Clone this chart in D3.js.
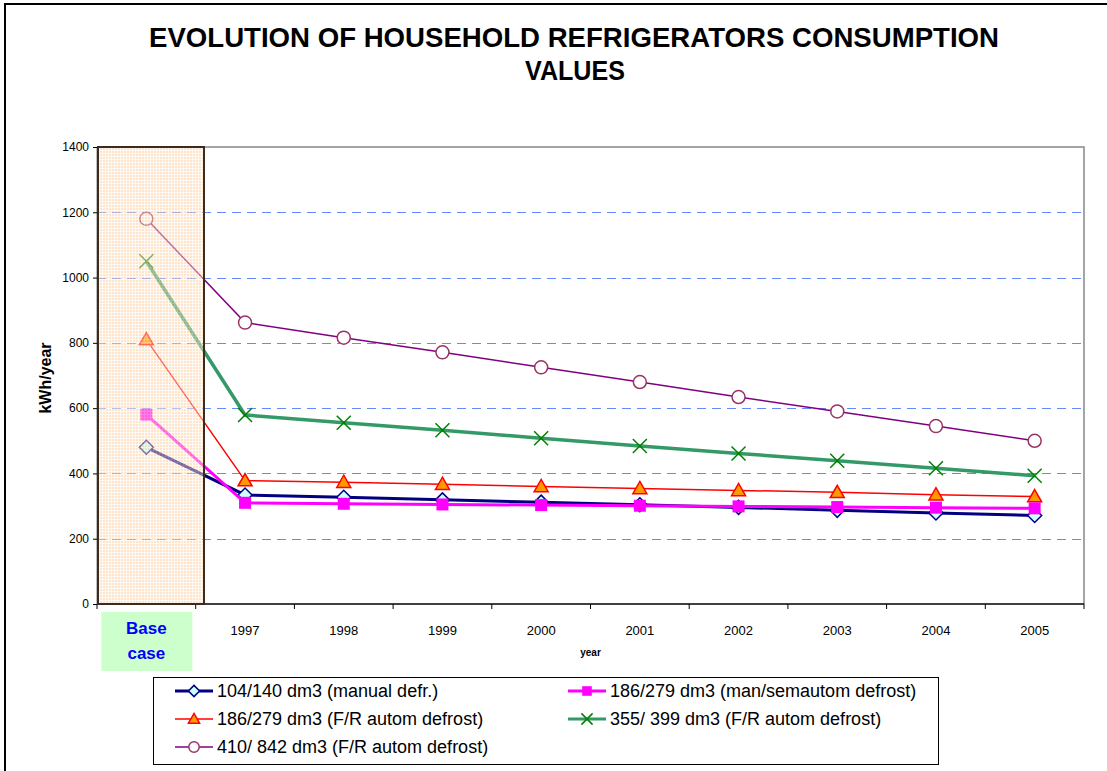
<!DOCTYPE html>
<html>
<head>
<meta charset="utf-8">
<script src="https://cdn.jsdelivr.net/npm/d3@7"></script>
<style>
  body { margin: 0; background: #fff; }
  svg { display: block; font-family: "Liberation Sans", Arial, sans-serif; }
</style>
</head>
<body>
<script>
// categories on the x axis
var categories = ["Base case", "1997", "1998", "1999", "2000", "2001", "2002", "2003", "2004", "2005"];
var yTicks = [0, 200, 400, 600, 800, 1000, 1200, 1400];

// kWh/year per series
var manualDefr   = [480, 334, 327, 319, 312, 304, 296, 287, 279, 271];
var manSemautom  = [580, 310, 307, 305, 303, 301, 299, 297, 295, 293];
var frAutom186   = [810, 378, 373, 367, 360, 354, 348, 342, 335, 329];
var frAutom355   = [1050, 579, 555, 532, 508, 484, 461, 439, 416, 393];
var frAutom410   = [1180, 862, 816, 771, 725, 680, 634, 590, 545, 500];

var seriesNames = [
    "104/140 dm3 (manual defr.)",
    "186/279 dm3 (man/semautom defrost)",
    "186/279 dm3 (F/R autom defrost)",
    "355/ 399 dm3 (F/R autom defrost)",
    "410/ 842 dm3 (F/R autom defrost)"
];

var styles = [
    { line: "#000080", width: 3,   marker: "diamond",  fill: "#ccffff", stroke: "#000080", size: 7 },
    { line: "#ff00ff", width: 3,   marker: "square",   fill: "#ff00ff", stroke: "#ff00ff", size: 6 },
    { line: "#ff0000", width: 1.5, marker: "triangle", fill: "#ff9900", stroke: "#ff0000", size: 7 },
    { line: "#339966", width: 3.5, marker: "cross",    fill: "none",    stroke: "#008000", size: 7 },
    { line: "#800080", width: 1.5, marker: "circle",   fill: "#ffffff", stroke: "#993366", size: 6.5 }
];

var allSeries = [manualDefr, manSemautom, frAutom186, frAutom355, frAutom410];

var width = 1107, height = 771;
var plot = { left: 97, right: 1084, top: 147, bottom: 604 };

var svg = d3.select("body").append("svg")
    .attr("width", width)
    .attr("height", height);

// outer frame (partially visible)
svg.append("path")
    .attr("d", "M5," + height + "L5,4L" + width + ",4")
    .attr("fill", "none")
    .attr("stroke", "#000")
    .attr("stroke-width", 2);

// title
var title = svg.append("text")
    .attr("text-anchor", "middle")
    .attr("font-weight", "bold")
    .attr("font-size", "28px");
title.append("tspan").attr("x", 574).attr("y", 47)
    .attr("textLength", 850).attr("lengthAdjust", "spacingAndGlyphs")
    .text("EVOLUTION OF HOUSEHOLD REFRIGERATORS CONSUMPTION");
title.append("tspan").attr("x", 575).attr("y", 80)
    .attr("textLength", 100).attr("lengthAdjust", "spacingAndGlyphs")
    .text("VALUES");

var x = d3.scaleBand()
    .domain(categories)
    .range([plot.left, plot.right])
    .paddingInner(0)
    .paddingOuter(0);

var y = d3.scaleLinear()
    .domain([0, 1400])
    .range([plot.bottom, plot.top]);

function sy(v) { return Math.round(y(v)) + 0.5; }

// gridlines
svg.append("g")
    .selectAll("line")
    .data(yTicks.filter(d => d > 0 && d < 1400))
    .enter().append("line")
    .attr("x1", plot.left).attr("x2", plot.right)
    .attr("y1", d => sy(d)).attr("y2", d => sy(d))
    .attr("stroke", "#6688ff")
    .attr("stroke-width", 1.2)
    .attr("stroke-dasharray", "9,6");

// plot border top / right
svg.append("path")
    .attr("d", "M" + plot.left + "," + plot.top + "L" + plot.right + "," + plot.top + "L" + plot.right + "," + plot.bottom)
    .attr("fill", "none")
    .attr("stroke", "#888")
    .attr("stroke-width", 1.5);

// y axis
var yAxis = svg.append("g")
    .attr("transform", "translate(" + plot.left + ",0)")
    .call(d3.axisLeft(y).tickValues(yTicks).tickFormat(d3.format("d")).tickSize(4).tickSizeOuter(0));
yAxis.select(".domain").attr("stroke", "#000").attr("stroke-width", 1.5);
yAxis.selectAll(".tick text").attr("font-size", "12px").attr("x", -8)
    .attr("font-family", "Liberation Sans, Arial, sans-serif").attr("fill", "#000");

// x axis: ticks between categories
var xAxis = svg.append("g").attr("transform", "translate(0," + plot.bottom + ")");
xAxis.append("line")
    .attr("x1", plot.left).attr("x2", plot.right)
    .attr("stroke", "#000").attr("stroke-width", 1.5);
var edges = categories.map(c => x(c)).concat([plot.right]);
xAxis.selectAll("line.tick")
    .data(edges)
    .enter().append("line")
    .attr("class", "tick")
    .attr("x1", d => d).attr("x2", d => d)
    .attr("y1", 0).attr("y2", 5)
    .attr("stroke", "#000");
xAxis.selectAll("text.lbl")
    .data(categories.slice(1))
    .enter().append("text")
    .attr("class", "lbl")
    .attr("x", d => x(d) + x.bandwidth() / 2)
    .attr("y", 31)
    .attr("text-anchor", "middle")
    .attr("font-size", "13px")
    .text(d => d);

// base case label box
var bx = x(categories[0]) + x.bandwidth() / 2;
svg.append("rect")
    .attr("x", bx - 45).attr("y", 612)
    .attr("width", 91).attr("height", 59)
    .attr("fill", "#ccffcc");
var baseLbl = svg.append("text")
    .attr("text-anchor", "middle")
    .attr("font-weight", "bold")
    .attr("font-size", "17px")
    .attr("fill", "#0000ff");
baseLbl.append("tspan").attr("x", bx).attr("y", 634).text("Base");
baseLbl.append("tspan").attr("x", bx).attr("y", 659).text("case");

// axis titles
svg.append("text")
    .attr("transform", "translate(51," + 378 + ") rotate(-90)")
    .attr("text-anchor", "middle")
    .attr("font-weight", "bold")
    .attr("font-size", "16px")
    .text("kWh/year");
svg.append("text")
    .attr("x", (plot.left + plot.right) / 2)
    .attr("y", 656)
    .attr("text-anchor", "middle")
    .attr("font-weight", "bold")
    .attr("font-size", "10px")
    .text("year");

// marker drawing
function drawMarker(g, st, cx, cy) {
    var s = st.size;
    if (st.marker === "diamond") {
        g.append("path").attr("d", "M" + cx + "," + (cy - s) + "L" + (cx + s) + "," + cy + "L" + cx + "," + (cy + s) + "L" + (cx - s) + "," + cy + "Z")
            .attr("fill", st.fill).attr("stroke", st.stroke).attr("stroke-width", 1.5);
    } else if (st.marker === "square") {
        g.append("rect").attr("x", cx - s).attr("y", cy - s).attr("width", 2 * s).attr("height", 2 * s)
            .attr("fill", st.fill);
    } else if (st.marker === "triangle") {
        g.append("path").attr("d", "M" + cx + "," + (cy - s) + "L" + (cx + s) + "," + (cy + s * 0.75) + "L" + (cx - s) + "," + (cy + s * 0.75) + "Z")
            .attr("fill", st.fill).attr("stroke", st.stroke).attr("stroke-width", 1.5);
    } else if (st.marker === "cross") {
        g.append("path").attr("d", "M" + (cx - s) + "," + (cy - s) + "L" + (cx + s) + "," + (cy + s) + "M" + (cx + s) + "," + (cy - s) + "L" + (cx - s) + "," + (cy + s))
            .attr("stroke", st.stroke).attr("stroke-width", 1.5);
    } else {
        g.append("circle").attr("cx", cx).attr("cy", cy).attr("r", s)
            .attr("fill", st.fill).attr("stroke", st.stroke).attr("stroke-width", 1.5);
    }
}

var line = d3.line()
    .x((d, i) => x(categories[i]) + x.bandwidth() / 2)
    .y(d => y(d));

// series, drawn back to front
var order = [4, 3, 2, 0, 1];
order.forEach(k => {
    var st = styles[k];
    var g = svg.append("g");
    g.append("path")
        .datum(allSeries[k])
        .attr("d", line)
        .attr("fill", "none")
        .attr("stroke", st.line)
        .attr("stroke-width", st.width);
    allSeries[k].forEach((v, i) => {
        drawMarker(g, st, x(categories[i]) + x.bandwidth() / 2, y(v));
    });
});

// base case shaded region on top
var defs = svg.append("defs");
var pat = defs.append("pattern")
    .attr("id", "grid")
    .attr("width", 3).attr("height", 3)
    .attr("patternUnits", "userSpaceOnUse");
pat.append("rect").attr("width", 3).attr("height", 3).attr("fill", "#fbc995");
pat.append("path").attr("d", "M0,0.5H3M0.5,0V3").attr("stroke", "#fff4e8").attr("stroke-width", 1);

svg.append("rect")
    .attr("x", plot.left + 1)
    .attr("y", plot.top)
    .attr("width", 106)
    .attr("height", plot.bottom - plot.top)
    .attr("fill", "url(#grid)")
    .attr("fill-opacity", 0.5);
svg.append("rect")
    .attr("x", plot.left + 1)
    .attr("y", plot.top)
    .attr("width", 106)
    .attr("height", plot.bottom - plot.top)
    .attr("fill", "none")
    .attr("stroke", "#3b2c20")
    .attr("stroke-width", 2);

// legend
var legend = svg.append("g");
legend.append("rect")
    .attr("x", 153.5).attr("y", 677.5)
    .attr("width", 785).attr("height", 87)
    .attr("fill", "#fff")
    .attr("stroke", "#000");
var legPos = [[175, 691], [568, 691], [175, 719], [568, 719], [175, 747]];
seriesNames.forEach((name, k) => {
    var st = styles[k];
    var p = legPos[k];
    var g = legend.append("g");
    g.append("line")
        .attr("x1", p[0]).attr("x2", p[0] + 38)
        .attr("y1", p[1]).attr("y2", p[1])
        .attr("stroke", st.line)
        .attr("stroke-width", Math.min(st.width, 3));
    var small = Object.assign({}, st, { size: st.size * 0.8 });
    drawMarker(g, small, p[0] + 19, p[1]);
    g.append("text")
        .attr("x", p[0] + 42)
        .attr("y", p[1] + 6)
        .attr("font-size", "18px")
        .text(name);
});
</script>
</body>
</html>
